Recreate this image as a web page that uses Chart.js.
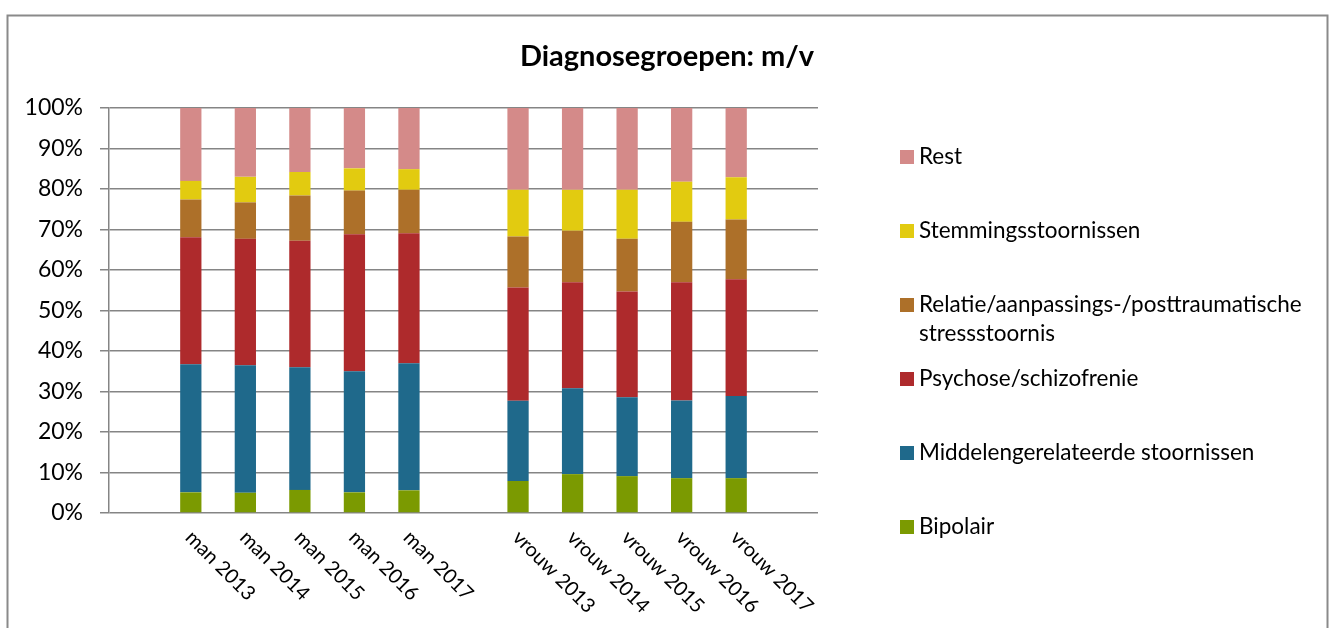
<!DOCTYPE html>
<html>
<head>
<meta charset="utf-8">
<script src="https://cdn.jsdelivr.net/npm/chart.js@4.4.1/dist/chart.umd.min.js"></script>
<style>
  html, body { margin: 0; padding: 0; background: #fff; }
  #wrap { position: relative; width: 1329px; height: 628px; }
</style>
</head>
<body>
<div id="wrap"><canvas id="diagChart"></canvas></div>
<script>
// categories (empty slots keep the gaps of the original)
const categories = [
  "", "man 2013", "man 2014", "man 2015", "man 2016", "man 2017",
  "", "vrouw 2013", "vrouw 2014", "vrouw 2015", "vrouw 2016", "vrouw 2017", ""
];

// shares in %, stacked from bottom to top
const bipolair   = [null, 5.1, 5.0, 5.7, 5.1, 5.6, null, 7.9, 9.6, 9.1, 8.6, 8.6, null];
const middelen   = [null, 31.6, 31.5, 30.3, 29.9, 31.4, null, 19.8, 21.2, 19.5, 19.2, 20.3, null];
const psychose   = [null, 31.4, 31.2, 31.2, 33.8, 32.1, null, 28.0, 26.2, 26.1, 29.2, 28.8, null];
const relatie    = [null, 9.3, 9.0, 11.2, 10.8, 10.7, null, 12.6, 12.7, 13.0, 14.9, 14.8, null];
const stemming   = [null, 4.6, 6.3, 5.8, 5.5, 5.1, null, 11.5, 10.1, 12.1, 9.9, 10.4, null];
const rest       = [null, 18.0, 17.0, 15.8, 14.9, 15.1, null, 20.2, 20.2, 20.2, 18.2, 17.1, null];

const yTicks = [0, 10, 20, 30, 40, 50, 60, 70, 80, 90, 100];

const FONT = "Lato, 'Open Sans', sans-serif";

const seriesList = [
  { label: "Bipolair", data: bipolair, color: "#7B9A01" },
  { label: "Middelengerelateerde stoornissen", data: middelen, color: "#1F698B" },
  { label: "Psychose/schizofrenie", data: psychose, color: "#AE2A2C" },
  { label: ["Relatie/aanpassings-/posttraumatische", "stressstoornis"], data: relatie, color: "#AD7029" },
  { label: "Stemmingsstoornissen", data: stemming, color: "#E2CB10" },
  { label: "Rest", data: rest, color: "#D48A89" },
];

// outer frame, title, rotated category labels, legend
const decorations = {
  id: "decorations",
  beforeDraw(chart) {
    const ctx = chart.ctx;
    ctx.save();
    ctx.fillStyle = "#fff";
    ctx.fillRect(0, 0, chart.width, chart.height);
    ctx.strokeStyle = "#8a8a8a";
    ctx.lineWidth = 2;
    ctx.strokeRect(7.5, 15.5, 1320, 700);
    ctx.restore();
  },
  afterDraw(chart) {
    const ctx = chart.ctx;
    const xScale = chart.scales.x;
    ctx.save();

    // title
    ctx.fillStyle = "#000";
    ctx.font = "bold 29px " + FONT;
    ctx.textAlign = "center";
    ctx.textBaseline = "middle";
    ctx.fillText("Diagnosegroepen: m/v", 667, 57);

    // category labels, rotated 45 degrees
    ctx.font = "20px " + FONT;
    ctx.textAlign = "left";
    ctx.textBaseline = "top";
    categories.forEach((cat, i) => {
      if (!cat) return;
      const x = xScale.getPixelForValue(i);
      ctx.save();
      ctx.translate(x + 5, 527);
      ctx.rotate(Math.PI / 4);
      ctx.fillText(cat, 0, 0);
      ctx.restore();
    });

    // legend, top item = last dataset
    ctx.font = "22.5px " + FONT;
    ctx.textBaseline = "middle";
    const items = chart.data.datasets.slice().reverse();
    items.forEach((ds, i) => {
      const y = 157 + i * 74;
      ctx.fillStyle = ds.backgroundColor;
      ctx.fillRect(900, y - 7, 14, 14);
      ctx.fillStyle = "#000";
      const lines = Array.isArray(ds.label) ? ds.label : [ds.label];
      lines.forEach((line, j) => ctx.fillText(line, 919, y + j * 29));
    });

    ctx.restore();
  },
};

const ctx = document.getElementById("diagChart").getContext("2d");

new Chart(ctx, {
  type: "bar",
  data: {
    labels: categories,
    datasets: seriesList.map((s) => ({
      label: s.label,
      data: s.data,
      backgroundColor: s.color,
      borderWidth: 0,
      barPercentage: 0.39,
      categoryPercentage: 1,
    })),
  },
  options: {
    responsive: true,
    maintainAspectRatio: false,
    animation: false,
    layout: {
      padding: { top: 108, right: 511, bottom: 0, left: 0 },
    },
    plugins: {
      legend: { display: false },
      title: { display: false },
      tooltip: { enabled: false },
    },
    scales: {
      x: {
        stacked: true,
        grid: { display: false, drawTicks: false },
        border: { display: false },
        ticks: { display: false },
        afterFit: (scale) => {
          scale.height = 115;
        },
      },
      y: {
        stacked: true,
        min: 0,
        max: 100,
        afterBuildTicks: (scale) => {
          scale.ticks = yTicks.map((v) => ({ value: v }));
        },
        afterFit: (scale) => {
          scale.width = 109;
        },
        grid: {
          color: "#858585",
          lineWidth: 1.5,
          drawTicks: true,
          tickLength: 9,
        },
        border: { display: true, color: "#858585", width: 1.5 },
        ticks: {
          color: "#000",
          font: { family: FONT, size: 23 },
          padding: 17,
          callback: (value) => value + "%",
        },
      },
    },
  },
  plugins: [decorations],
});
</script>
</body>
</html>
